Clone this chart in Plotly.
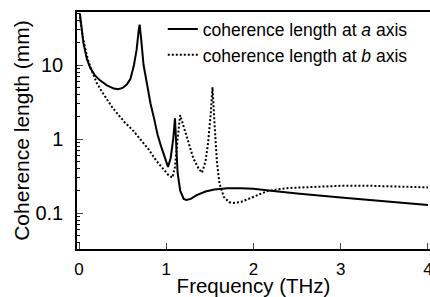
import plotly.graph_objects as go

# Coherence length along a axis (solid)
freq_a = [0.01, 0.03, 0.05, 0.09, 0.13, 0.18, 0.24, 0.32, 0.40, 0.45, 0.50, 0.55, 0.59, 0.63,
          0.66, 0.685, 0.695, 0.71, 0.74, 0.78, 0.82, 0.86, 0.90, 0.94, 0.97, 1.00, 1.02,
          1.05, 1.08, 1.10, 1.115, 1.13, 1.16, 1.20, 1.23, 1.28, 1.35, 1.45, 1.55, 1.70,
          1.85, 2.0, 2.2, 2.5, 3.0, 3.5, 4.0]
len_a = [50, 30, 20, 12, 9.1, 7.3, 6.2, 5.3, 4.8, 4.7, 4.9, 5.5, 6.5, 10,
         16, 30, 35, 24, 10, 5.5, 3.0, 1.9, 1.15, 0.8, 0.62, 0.48, 0.42,
         0.55, 1.0, 1.9, 0.8, 0.35, 0.2, 0.155, 0.15, 0.155, 0.175, 0.195, 0.208, 0.216,
         0.216, 0.212, 0.2, 0.183, 0.162, 0.143, 0.128]

# Coherence length along b axis (dotted)
freq_b = [0.01, 0.04, 0.07, 0.10, 0.13, 0.17, 0.20, 0.26, 0.32, 0.38, 0.44, 0.52, 0.62, 0.72,
          0.80, 0.88, 0.96, 1.02, 1.07, 1.10, 1.13, 1.16, 1.19, 1.24, 1.31, 1.37, 1.41,
          1.45, 1.48, 1.51, 1.53, 1.555, 1.58, 1.61, 1.66, 1.72, 1.77, 1.85, 1.97, 2.08,
          2.17, 2.4, 2.7, 3.0, 3.3, 3.6, 4.0]
len_b = [45, 25, 17, 12, 9.4, 7, 5.8, 4.4, 3.4, 2.7, 2.2, 1.7, 1.3, 0.95,
         0.72, 0.52, 0.4, 0.33, 0.30, 0.42, 1.0, 2.1, 1.6, 1.0, 0.55, 0.4, 0.35,
         0.5, 0.9, 2.2, 5.0, 1.5, 0.5, 0.25, 0.165, 0.14, 0.137, 0.14, 0.16, 0.185,
         0.2, 0.218, 0.228, 0.233, 0.234, 0.23, 0.222]

x_ticks = [0, 1, 2, 3, 4]
y_ticks = [0.1, 1, 10]
y_ticktext = ["0.1", "1", "10"]
y_minor = [0.04, 0.05, 0.06, 0.07, 0.08, 0.09, 0.2, 0.3, 0.4, 0.5, 0.6, 0.7, 0.8, 0.9,
           2, 3, 4, 5, 6, 7, 8, 9, 20, 30, 40, 50]

FONT = "Liberation Sans, Arial, Helvetica, sans-serif"

fig = go.Figure()
fig.add_trace(go.Scatter(x=freq_a, y=len_a, mode="lines",
                         line=dict(color="black", width=2),
                         name="coherence length at <i>a</i> axis"))
fig.add_trace(go.Scatter(x=freq_b, y=len_b, mode="lines",
                         line=dict(color="black", width=2, dash="2px,2px"),
                         name="coherence length at <i>b</i> axis"))

fig.update_layout(
    width=430, height=297,
    margin=dict(l=77, r=0, t=12, b=48),
    paper_bgcolor="white", plot_bgcolor="white",
    font=dict(family=FONT, color="black", size=17),
    showlegend=True,
    legend=dict(x=0.243, y=1.004, xanchor="left", yanchor="top",
                bgcolor="rgba(0,0,0,0)", font=dict(size=17.5, family=FONT),
                borderwidth=0, tracegroupgap=0),
)
fig.update_xaxes(
    range=[-0.023, 4.023], tickvals=x_ticks, ticks="inside", ticklen=6,
    tickwidth=1.2, showline=True, linecolor="black", linewidth=1.5, mirror=True,
    showgrid=False, zeroline=False, automargin=False, ticklabelstandoff=4,
    ticklabeloverflow="allow",
    title=dict(text="Frequency (THz)", standoff=4, font=dict(size=20.5)),
    tickfont=dict(size=17),
)
fig.update_yaxes(
    type="log", range=[-1.486, 1.716], tickvals=y_ticks, ticktext=y_ticktext,
    ticks="inside", ticklen=6, tickwidth=1.2,
    minor=dict(ticks="inside", ticklen=3, tickvals=y_minor, tickcolor="black", tickwidth=1),
    showline=True, linecolor="black", linewidth=1.5, mirror=False,
    showgrid=False, zeroline=False, ticklabelstandoff=8, automargin=False,
    title=dict(text="Coherence length (mm)", standoff=0, font=dict(size=21)),
    tickfont=dict(size=20),
)

fig.write_html(
    "out.html",
    config={"displayModeBar": False},
    post_script="document.body.style.margin='0';document.body.style.overflow='hidden';",
)
